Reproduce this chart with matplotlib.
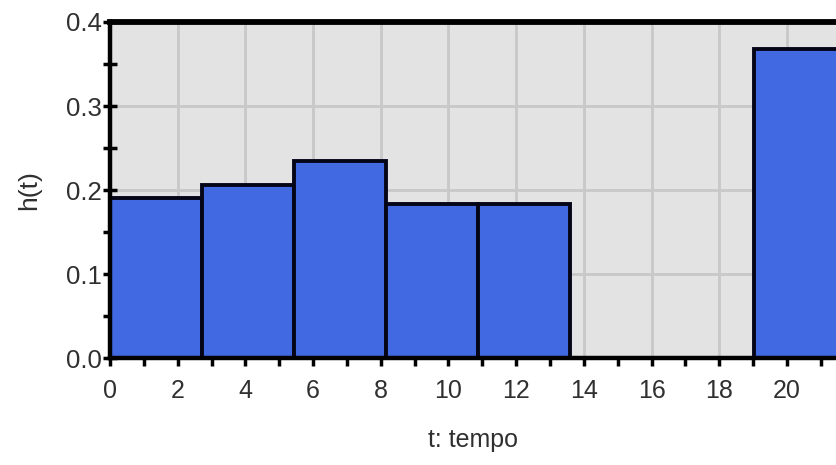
import numpy as np
import matplotlib
matplotlib.use("Agg")
import matplotlib.pyplot as plt
from matplotlib.ticker import MultipleLocator

# histogram bins (bin width ~2.72)
bin_left = [0.0, 2.72, 5.44, 8.16, 10.88, 19.04]
bin_width = [2.72, 2.72, 2.72, 2.72, 2.72, 2.72]
h_values = [0.190, 0.206, 0.235, 0.183, 0.183, 0.368]

x_ticks = [0, 2, 4, 6, 8, 10, 12, 14, 16, 18, 20]
y_ticks = [0.0, 0.1, 0.2, 0.3, 0.4]

plt.rcParams["font.family"] = ["Liberation Sans", "DejaVu Sans"]

fig = plt.figure(figsize=(8.37, 4.65), dpi=100)
ax = fig.add_axes([0.1314, 0.230, 0.8686, 0.7227])
ax.set_facecolor("#e3e3e3")

ax.bar(bin_left, h_values, width=bin_width, align="edge",
       color="#4169e1", edgecolor="#050518", linewidth=2.8, zorder=3)

ax.set_xlim(0, 21.48)
ax.set_ylim(0, 0.4)
ax.set_xticks(x_ticks)
ax.set_yticks(y_ticks)
ax.set_yticklabels([f"{v:.1f}" for v in y_ticks])
ax.xaxis.set_minor_locator(MultipleLocator(1))
ax.yaxis.set_minor_locator(MultipleLocator(0.05))

ax.grid(True, which="major", color="#c8c8c8", linewidth=2.0, zorder=0)
ax.set_axisbelow(True)

for side in ["left", "bottom"]:
    ax.spines[side].set_linewidth(3.2)
    ax.spines[side].set_color("black")
    ax.spines[side].set_zorder(4)
ax.spines["top"].set_linewidth(4.2)
ax.spines["top"].set_color("black")
ax.spines["right"].set_visible(False)

ax.tick_params(axis="x", which="both", direction="out", length=6, width=2.5,
               colors="black", labelcolor="#303030", labelsize=18, pad=9)
ax.tick_params(axis="y", which="both", direction="inout", length=10, width=2.5,
               colors="black", labelcolor="#303030", labelsize=18.5, pad=1)

ax.set_xlabel("t: tempo", fontsize=18, color="#303030", labelpad=18)
ax.set_ylabel("h(t)", fontsize=19, color="#303030", labelpad=18)

fig.savefig("out.png", dpi=100)
